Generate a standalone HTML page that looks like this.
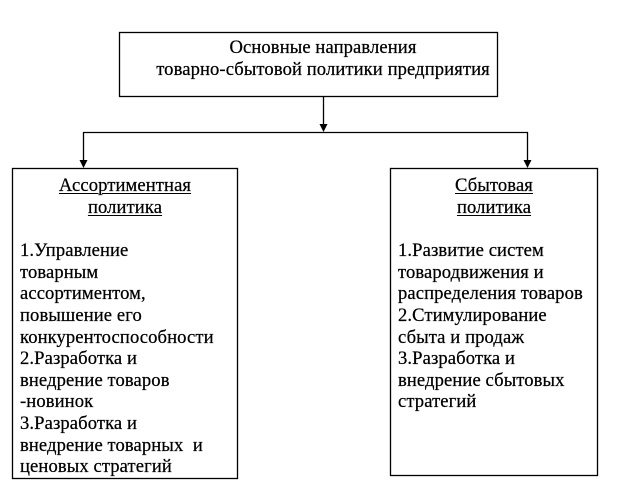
<!DOCTYPE html>
<html>
<head>
<meta charset="utf-8">
<style>
  html,body{margin:0;padding:0;background:#fff;}
  body{width:635px;height:484px;position:relative;overflow:hidden;
       font-family:"Liberation Serif","Noto Serif CJK SC",serif;color:#000;}
  svg{position:absolute;left:0;top:0;}
  .t{position:absolute;white-space:pre;font-size:18.6px;line-height:21.6px;-webkit-text-stroke:0.25px #000;letter-spacing:0.1px;}
  .c{text-align:center;}
  u{text-decoration:underline;text-underline-offset:2px;text-decoration-thickness:1px;}
</style>
</head>
<body>
<svg width="635" height="484" viewBox="0 0 635 484">
  <g fill="none" stroke="#000" stroke-width="1.3">
    <rect x="119.5" y="32.5" width="378" height="64"/>
    <rect x="12.5" y="168.5" width="225" height="310"/>
    <rect x="390.5" y="168.5" width="207" height="307"/>
    <line x1="323.5" y1="96" x2="323.5" y2="126"/>
    <line x1="83" y1="132.5" x2="528" y2="132.5"/>
    <line x1="83.5" y1="132" x2="83.5" y2="162"/>
    <line x1="527.5" y1="132" x2="527.5" y2="162"/>
  </g>
  <g fill="#000">
    <polygon points="319.5,124 327.5,124 323.5,132"/>
    <polygon points="79.5,160 87.5,160 83.5,168"/>
    <polygon points="523.5,160 531.5,160 527.5,168"/>
  </g>
</svg>

<div class="t c" style="left:0;width:646px;top:36.7px;line-height:22px;">Основные направления
товарно-сбытовой политики предприятия</div>

<div class="t c" style="left:12px;width:226px;top:175.4px;"><u>Ассортиментная</u>
<u>политика</u></div>
<div class="t" style="left:20px;top:240.2px;">1.Управление
товарным
ассортиментом,
повышение его
конкурентоспособности
2.Разработка и
внедрение товаров
-новинок
3.Разработка и
внедрение товарных  и
ценовых стратегий</div>

<div class="t c" style="left:390px;width:208px;top:175.4px;"><u>Сбытовая</u>
<u>политика</u></div>
<div class="t" style="left:398px;top:240.2px;">1.Развитие систем
товародвижения и
распределения товаров
2.Стимулирование
сбыта и продаж
3.Разработка и
внедрение сбытовых
стратегий</div>
</body>
</html>
